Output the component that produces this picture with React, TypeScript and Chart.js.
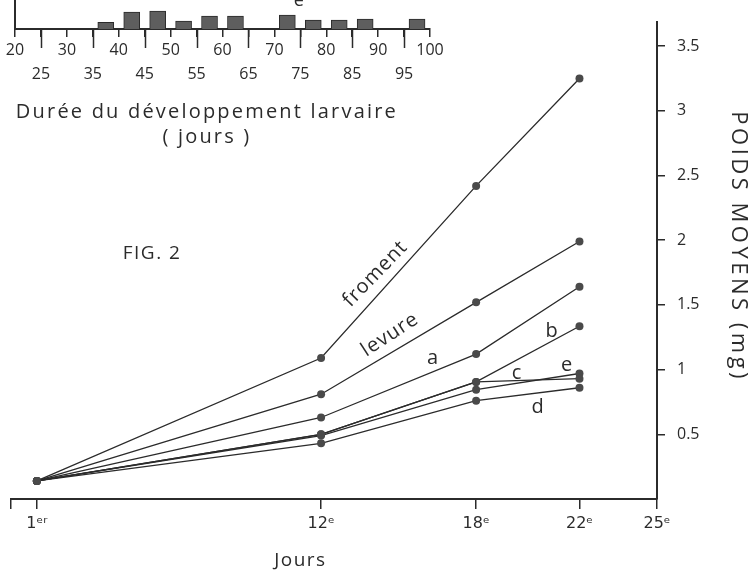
import React, { useEffect, useRef } from 'react';
import { Chart, registerables } from 'chart.js';

Chart.register(...registerables);

// ---- Main chart data (mean weight in mg by day) ----
const days = [1, 12, 18, 22];
const froment = [0.14, 1.09, 2.42, 3.25];
const levure = [0.14, 0.81, 1.52, 1.99];
const serieA = [0.14, 0.63, 1.12, 1.64];
const serieB = [0.14, 0.5, 0.905, 1.335];
const serieC = [0.14, 0.5, 0.905, 0.93];
const serieE = [0.14, 0.49, 0.845, 0.97];
const serieD = [0.14, 0.43, 0.76, 0.86];

const xTickValues = [0, 1, 12, 18, 22, 25];
const xTickLabels = ['', '1ᵉʳ', '12ᵉ', '18ᵉ', '22ᵉ', '25ᵉ'];
const yTickValues = [0.5, 1, 1.5, 2, 2.5, 3, 3.5];
const yTickLabels = ['0.5', '1', '1.5', '2', '2.5', '3', '3.5'];

// Labels placed in data coordinates (day, mg)
const seriesLabels = [
  { text: 'froment', day: 14.1, mg: 1.74, angle: -46 },
  { text: 'levure', day: 14.67, mg: 1.27, angle: -33 },
  { text: 'a', day: 16.33, mg: 1.09, angle: 0 },
  { text: 'b', day: 20.94, mg: 1.3, angle: 0 },
  { text: 'c', day: 19.58, mg: 0.97, angle: 0 },
  { text: 'e', day: 21.52, mg: 1.03, angle: 0 },
  { text: 'd', day: 20.4, mg: 0.71, angle: 0 },
];

// ---- Inset histogram data (duration of larval development, days) ----
const binStarts = [35, 40, 45, 50, 55, 60, 70, 75, 80, 85, 95];
const binCounts = [1.5, 3.8, 4.0, 1.8, 2.9, 2.9, 3.1, 2.0, 2.0, 2.2, 2.2];
const histTickValues = [20, 25, 30, 35, 40, 45, 50, 55, 60, 65, 70, 75, 80, 85, 90, 95, 100];

const FONT = "'Open Sans', 'DejaVu Sans', sans-serif";
const INK = '#2b2b2b';

const mainSeries = [froment, levure, serieA, serieB, serieC, serieE, serieD];

const annotationPlugin = {
  id: 'annotations',
  afterDraw(chart: any) {
    const ctx = chart.ctx as CanvasRenderingContext2D;
    const xs = chart.scales.x;
    const ys = chart.scales.y;
    const area = chart.chartArea;
    ctx.save();
    ctx.fillStyle = INK;
    ctx.textAlign = 'center';
    ctx.textBaseline = 'middle';
    (ctx as any).letterSpacing = '1px';
    ctx.font = `20px ${FONT}`;
    for (const l of seriesLabels) {
      const px = xs.getPixelForValue(l.day);
      const py = ys.getPixelForValue(l.mg);
      ctx.save();
      ctx.translate(px, py);
      ctx.rotate((l.angle * Math.PI) / 180);
      ctx.fillText(l.text, 0, 0);
      ctx.restore();
    }
    // FIG. 2
    ctx.font = `19px ${FONT}`;
    (ctx as any).letterSpacing = '1.5px';
    ctx.fillText('FIG. 2', xs.getPixelForValue(5.46), ys.getPixelForValue(1.9));
    // x title
    ctx.font = `19px ${FONT}`;
    ctx.fillText('Jours', xs.getPixelForValue(11.2), area.bottom + 62);
    // y title (rotated, reading downward)
    ctx.save();
    ctx.font = `22px ${FONT}`;
    (ctx as any).letterSpacing = '3.5px';
    ctx.translate(area.right + 81, ys.getPixelForValue(1.95));
    ctx.rotate(Math.PI / 2);
    ctx.fillText('POIDS MOYENS (mg)', 0, 0);
    ctx.restore();
    ctx.restore();
  },
};

const insetPlugin = {
  id: 'insetDecor',
  afterDraw(chart: any) {
    const ctx = chart.ctx as CanvasRenderingContext2D;
    const xs = chart.scales.x;
    const area = chart.chartArea;
    ctx.save();
    ctx.strokeStyle = INK;
    ctx.lineWidth = 1.5;
    // longer tick marks at the odd multiples of 5
    for (const v of histTickValues) {
      if (v % 10 !== 0) {
        const px = Math.round(xs.getPixelForValue(v)) + 0.5;
        ctx.beginPath();
        ctx.moveTo(px, area.bottom);
        ctx.lineTo(px, area.bottom + 19);
        ctx.stroke();
      }
    }
    ctx.fillStyle = INK;
    ctx.textAlign = 'center';
    ctx.textBaseline = 'middle';
    ctx.font = `20px ${FONT}`;
    (ctx as any).letterSpacing = '2.2px';
    const cx = xs.getPixelForValue(57);
    ctx.fillText('Durée du développement larvaire', cx, 112);
    ctx.fillText('( jours )', cx, 137);
    (ctx as any).letterSpacing = '0px';
    ctx.font = `18px ${FONT}`;
    ctx.fillText('e', xs.getPixelForValue(74.7), 1);
    ctx.restore();
  },
};

export default function App() {
  const mainRef = useRef<HTMLCanvasElement | null>(null);
  const insetRef = useRef<HTMLCanvasElement | null>(null);

  useEffect(() => {
    if (!mainRef.current || !insetRef.current) return;

    const main = new Chart(mainRef.current, {
      type: 'line',
      data: {
        datasets: mainSeries.map((vals) => ({
          data: days.map((d, i) => ({ x: d, y: vals[i] })),
          borderColor: INK,
          borderWidth: 1.3,
          pointRadius: 4,
          pointBackgroundColor: '#4a4a4a',
          pointBorderWidth: 0,
          fill: false,
          tension: 0,
        })),
      },
      options: {
        responsive: false,
        animation: false,
        layout: { padding: { left: 11, top: 10, right: 0, bottom: 0 } },
        plugins: { legend: { display: false }, tooltip: { enabled: false }, title: { display: false } },
        scales: {
          x: {
            type: 'linear',
            min: 0,
            max: 25,
            afterBuildTicks: (s: any) => {
              s.ticks = xTickValues.map((v) => ({ value: v }));
            },
            afterFit: (s: any) => {
              s.height = 76;
            },
            ticks: {
              autoSkip: false,
              maxRotation: 0,
              padding: 5,
              color: INK,
              font: { family: "'DejaVu Sans', 'Open Sans', sans-serif", size: 16 },
              callback: (v: any) => {
                const i = xTickValues.indexOf(Number(v));
                return i >= 0 ? xTickLabels[i] : '';
              },
            },
            grid: { drawOnChartArea: false, tickLength: 10, color: INK, lineWidth: 1.5 },
            border: { color: INK, width: 2 },
          },
          y: {
            type: 'linear',
            position: 'right',
            min: 0,
            max: 3.69,
            afterBuildTicks: (s: any) => {
              s.ticks = yTickValues.map((v) => ({ value: v }));
            },
            afterFit: (s: any) => {
              s.width = 94;
            },
            ticks: {
              padding: 12,
              color: INK,
              font: { family: FONT, size: 16 },
              callback: (v: any) => {
                const i = yTickValues.indexOf(Number(v));
                return i >= 0 ? yTickLabels[i] : '';
              },
            },
            grid: { drawOnChartArea: false, tickLength: 8, color: INK, lineWidth: 1.5 },
            border: { color: INK, width: 2 },
          },
        },
      },
      plugins: [annotationPlugin],
    });

    const inset = new Chart(insetRef.current, {
      type: 'bar',
      data: {
        datasets: [
          {
            data: binStarts.map((b, i) => ({ x: b + 2.5, y: binCounts[i] })),
            backgroundColor: '#5e5e5e',
            borderColor: '#2a2a2a',
            borderWidth: 1,
            barThickness: 16,
          },
        ],
      },
      options: {
        responsive: false,
        animation: false,
        layout: { padding: { left: 15, top: 0, right: 30, bottom: 0 } },
        plugins: { legend: { display: false }, tooltip: { enabled: false } },
        scales: {
          x: {
            type: 'linear',
            min: 20,
            max: 100,
            offset: false,
            afterBuildTicks: (s: any) => {
              s.ticks = histTickValues.map((v) => ({ value: v }));
            },
            afterFit: (s: any) => {
              s.height = 131;
            },
            ticks: {
              autoSkip: false,
              maxRotation: 0,
              padding: 1,
              color: INK,
              font: { family: FONT, size: 16, lineHeight: 1.5 },
              callback: (v: any) => (Number(v) % 10 === 0 ? String(v) : ['', String(v)]),
            },
            grid: { drawOnChartArea: false, tickLength: 8, color: INK, lineWidth: 1.5, offset: false },
            border: { color: INK, width: 2 },
          },
          y: {
            min: 0,
            max: 6.5,
            ticks: { display: false },
            grid: { display: false },
            border: { color: INK, width: 2 },
            afterFit: (s: any) => {
              s.width = 0;
            },
          },
        },
      },
      plugins: [insetPlugin],
    });

    return () => {
      main.destroy();
      inset.destroy();
    };
  }, []);

  return (
    <div style={{ position: 'absolute', left: 0, top: 0, width: 751, height: 575, background: '#fff' }}>
      <canvas ref={mainRef} width={751} height={575} style={{ position: 'absolute', left: 0, top: 0 }} />
      <canvas ref={insetRef} width={460} height={160} style={{ position: 'absolute', left: 0, top: 0 }} />
    </div>
  );
}
